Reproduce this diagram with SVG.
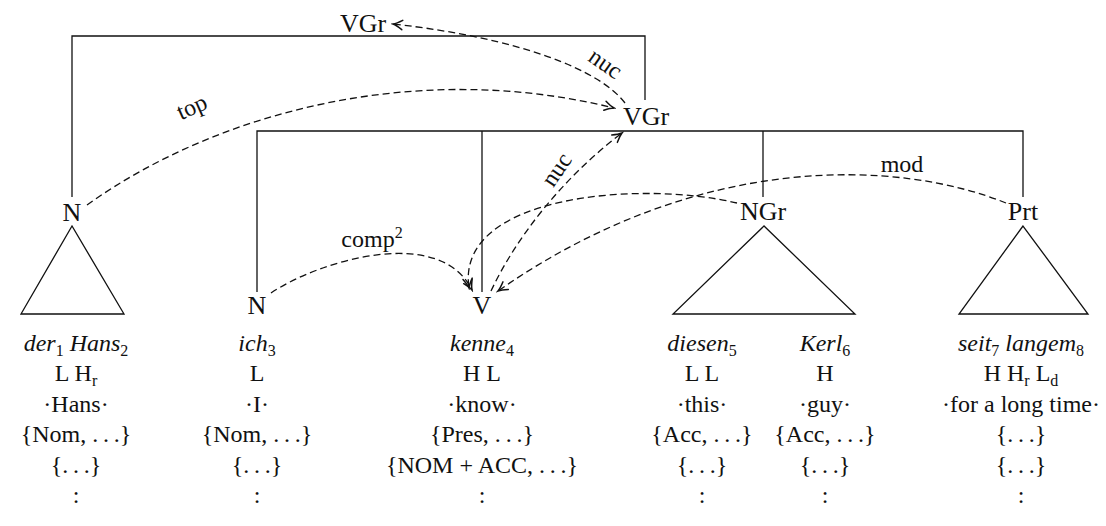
<svg xmlns="http://www.w3.org/2000/svg" width="1106" height="526" viewBox="0 0 1106 526">
  <style>
    text { font-family: "Liberation Serif", "Times New Roman", serif; fill: #111111; }
    .node { font-size: 26px; text-anchor: middle; }
    .lbl { font-size: 24px; text-anchor: middle; }
    .row { font-size: 24px; text-anchor: middle; }
    .it { font-style: italic; }
    .sub { font-size: 16px; }
    .tree { fill: none; stroke: #111111; stroke-width: 1.3; }
    .dep { fill: none; stroke: #111111; stroke-width: 1.3; stroke-dasharray: 7 4; }
    .arr { marker-end: url(#head); }
  </style>
  <defs>
    <marker id="head" markerWidth="14" markerHeight="14" refX="0" refY="0" viewBox="-10 -6 12 12" orient="auto" markerUnits="userSpaceOnUse">
      <path d="M -8 -4 Q -3 -0.8 0 0 Q -3 0.8 -8 4" fill="none" stroke="#111111" stroke-width="1.3" stroke-linecap="round"/>
    </marker>
  </defs>
  <rect width="1106" height="526" fill="#ffffff"/>

  <!-- tree brackets -->
  <g id="tree-lines" class="tree">
    <polyline points="72,197 72,36 645,36 645,100"/>
    <polyline points="257,292 257,131 1023,131 1023,197"/>
    <line x1="482" y1="131" x2="482" y2="292"/>
    <line x1="763" y1="131" x2="763" y2="197"/>
  </g>

  <g id="node-vgr-top"><text class="node" x="363" y="32">VGr</text></g>
  <g id="node-vgr"><text class="node" x="646" y="125">VGr</text></g>
  <g id="node-n1">
    <text class="node" x="72" y="221">N</text>
    <polygon class="tree" points="72,226 21,314 124,314"/>
  </g>
  <g id="node-n2"><text class="node" x="257" y="314">N</text></g>
  <g id="node-v"><text class="node" x="482" y="314">V</text></g>
  <g id="node-ngr">
    <text class="node" x="763" y="220">NGr</text>
    <polygon class="tree" points="764,226 673,314 855,314"/>
  </g>
  <g id="node-prt">
    <text class="node" x="1023" y="220">Prt</text>
    <polygon class="tree" points="1023,226 959,314 1088,314"/>
  </g>

  <!-- dependency arcs -->
  <g id="connectors">
    <path class="dep arr" d="M 625 103 C 600 70, 520 38, 393 24"/>
    <path class="dep arr" d="M 87 205 C 220 110, 420 60, 614 108"/>
    <path class="dep arr" d="M 491 291 C 515 240, 560 180, 622 133"/>
    <path class="dep arr" d="M 271 293 C 320 260, 440 225, 472 290"/>
    <path class="dep arr" d="M 737 203 C 640 180, 455 195, 469 288"/>
    <path class="dep arr" d="M 1006 203 C 900 160, 700 150, 498 291"/>
    <text class="lbl" transform="translate(601,70) rotate(35)">nuc</text>
    <text class="lbl" transform="translate(195,114) rotate(-24)">top</text>
    <text class="lbl" transform="translate(563,174) rotate(-56)">nuc</text>
    <text class="lbl" x="372" y="247">comp<tspan class="sub" dy="-9">2</tspan></text>
    <text class="lbl" x="902" y="172">mod</text>
  </g>

  <!-- word columns -->
  <g id="col-der-hans">
    <text class="row" x="76" y="351"><tspan class="it">der</tspan><tspan class="sub" dy="5">1</tspan><tspan dy="-5"> </tspan><tspan class="it">Hans</tspan><tspan class="sub" dy="5">2</tspan></text>
    <text class="row" x="76" y="381">L H<tspan class="sub" dy="5">r</tspan></text>
    <text class="row" x="76" y="412">·Hans·</text>
    <text class="row" x="76" y="442">{Nom, .&#8201;.&#8201;.}</text>
    <text class="row" x="76" y="473">{.&#8201;.&#8201;.}</text>
    <text class="row" x="76" y="503">:</text>
  </g>
  <g id="col-ich">
    <text class="row" x="257" y="351"><tspan class="it">ich</tspan><tspan class="sub" dy="5">3</tspan></text>
    <text class="row" x="257" y="381">L</text>
    <text class="row" x="257" y="412">·I·</text>
    <text class="row" x="257" y="442">{Nom, .&#8201;.&#8201;.}</text>
    <text class="row" x="257" y="473">{.&#8201;.&#8201;.}</text>
    <text class="row" x="257" y="503">:</text>
  </g>
  <g id="col-kenne">
    <text class="row" x="482" y="351"><tspan class="it">kenne</tspan><tspan class="sub" dy="5">4</tspan></text>
    <text class="row" x="482" y="381">H L</text>
    <text class="row" x="482" y="412">·know·</text>
    <text class="row" x="482" y="442">{Pres, .&#8201;.&#8201;.}</text>
    <text class="row" x="482" y="473">{NOM + ACC, .&#8201;.&#8201;.}</text>
    <text class="row" x="482" y="503">:</text>
  </g>
  <g id="col-diesen">
    <text class="row" x="702" y="351"><tspan class="it">diesen</tspan><tspan class="sub" dy="5">5</tspan></text>
    <text class="row" x="702" y="381">L L</text>
    <text class="row" x="702" y="412">·this·</text>
    <text class="row" x="702" y="442">{Acc, .&#8201;.&#8201;.}</text>
    <text class="row" x="702" y="473">{.&#8201;.&#8201;.}</text>
    <text class="row" x="702" y="503">:</text>
  </g>
  <g id="col-kerl">
    <text class="row" x="825" y="351"><tspan class="it">Kerl</tspan><tspan class="sub" dy="5">6</tspan></text>
    <text class="row" x="825" y="381">H</text>
    <text class="row" x="825" y="412">·guy·</text>
    <text class="row" x="825" y="442">{Acc, .&#8201;.&#8201;.}</text>
    <text class="row" x="825" y="473">{.&#8201;.&#8201;.}</text>
    <text class="row" x="825" y="503">:</text>
  </g>
  <g id="col-seit-langem">
    <text class="row" x="1021" y="351"><tspan class="it">seit</tspan><tspan class="sub" dy="5">7</tspan><tspan dy="-5"> </tspan><tspan class="it">langem</tspan><tspan class="sub" dy="5">8</tspan></text>
    <text class="row" x="1021" y="381">H H<tspan class="sub" dy="5">r</tspan><tspan dy="-5"> L</tspan><tspan class="sub" dy="5">d</tspan></text>
    <text class="row" x="1021" y="412">·for a long time·</text>
    <text class="row" x="1021" y="442">{.&#8201;.&#8201;.}</text>
    <text class="row" x="1021" y="473">{.&#8201;.&#8201;.}</text>
    <text class="row" x="1021" y="503">:</text>
  </g>
</svg>
